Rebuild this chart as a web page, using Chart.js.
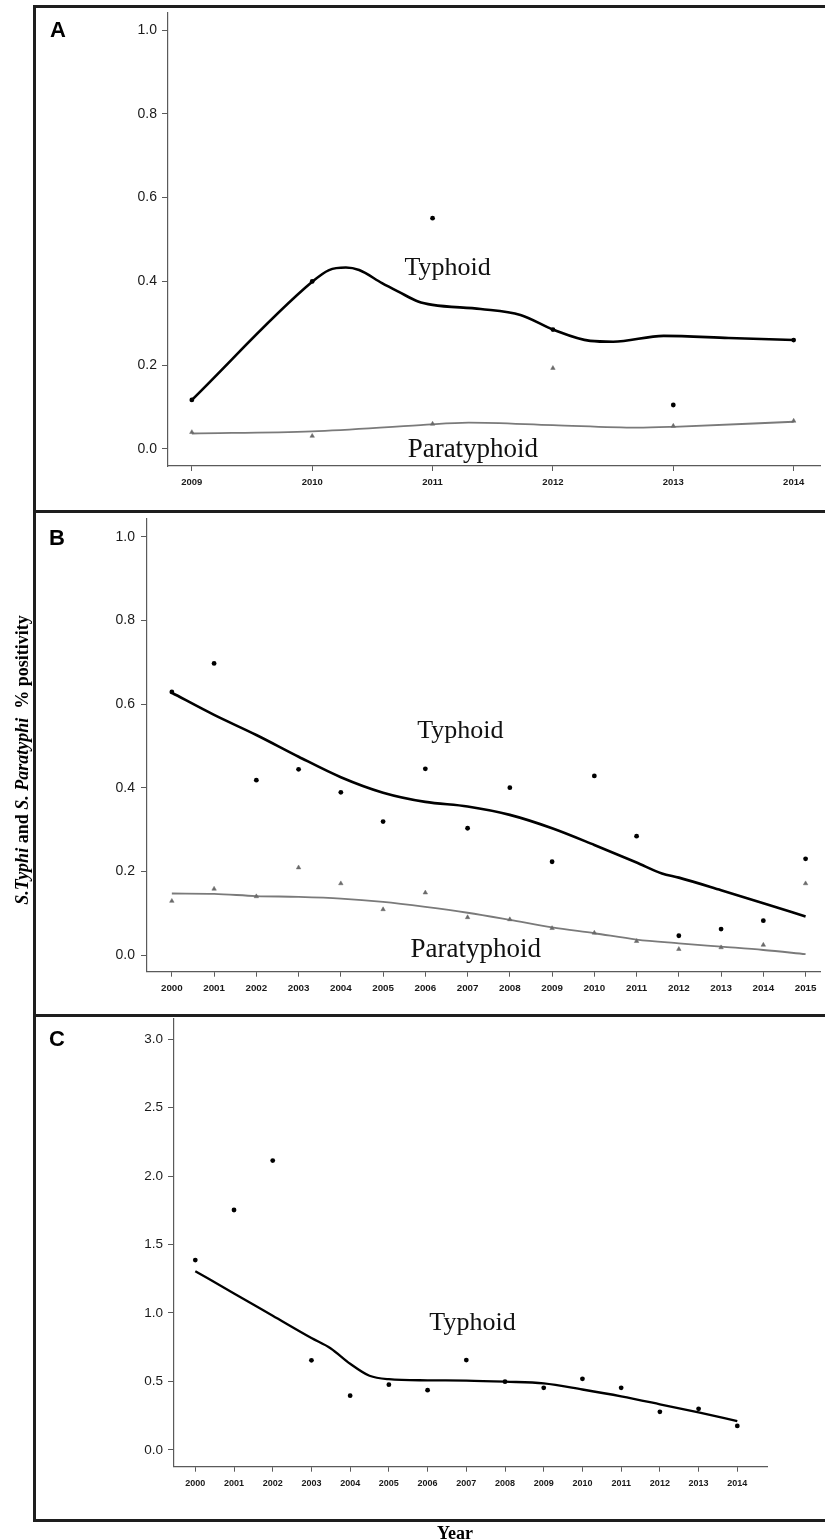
<!DOCTYPE html>
<html>
<head>
<meta charset="utf-8">
<script src="https://cdn.jsdelivr.net/npm/chart.js@4.4.1/dist/chart.umd.min.js"></script>
<style>
html,body{margin:0;padding:0;background:#fff;}
#wrap{position:relative;width:825px;height:1540px;overflow:hidden;background:#fff;}
#wrap canvas{position:absolute;left:0;}
.hl{position:absolute;left:33px;width:792px;height:3px;background:#1e1e1e;z-index:5;}
.vl{position:absolute;left:33px;width:3px;background:#1e1e1e;z-index:5;}
.pl{position:absolute;font:bold 22px "Liberation Sans",Arial,sans-serif;line-height:22px;color:#000;z-index:6;}
#ytitle{position:absolute;left:-137px;top:749px;width:320px;height:22px;line-height:22px;text-align:center;white-space:pre;
  font:bold 18px "Liberation Serif","Times New Roman",serif;color:#000;transform:rotate(-90deg);transform-origin:50% 50%;}
#xtitle{position:absolute;left:405px;top:1523px;width:100px;height:20px;line-height:20px;text-align:center;
  font:bold 18px "Liberation Serif","Times New Roman",serif;color:#000;}
</style>
</head>
<body>
<div id="wrap">
  <canvas id="cA"></canvas>
  <canvas id="cB"></canvas>
  <canvas id="cC"></canvas>
  <div class="hl" style="top:5px"></div>
  <div class="hl" style="top:510px"></div>
  <div class="hl" style="top:1014px"></div>
  <div class="hl" style="top:1519px"></div>
  <div class="vl" style="top:5px;height:1517px"></div>
  <div class="pl" style="left:50px;top:19px">A</div>
  <div class="pl" style="left:49px;top:527px">B</div>
  <div class="pl" style="left:49px;top:1028px">C</div>
  <div id="ytitle"><i>S.Typhi</i> and <i>S. Paratyphi</i>  % positivity</div>
  <div id="xtitle">Year</div>
</div>
<script>
// ---------- Panel A ----------
const yearsA = [2009, 2010, 2011, 2012, 2013, 2014];
const typhoidA = [0.117, 0.400, 0.551, 0.285, 0.105, 0.260];
const paraA = [0.040, 0.031, 0.060, 0.193, 0.055, 0.067];
const fitTyphoidYearsA = [2009, 2010, 2010.14, 2010.28, 2010.39, 2010.58, 2010.72, 2010.88, 2011, 2011.4, 2011.73, 2012.01, 2012.31, 2012.5, 2012.92, 2013.46, 2014];
const fitTyphoidA = [0.117, 0.399, 0.427, 0.433, 0.427, 0.396, 0.375, 0.352, 0.344, 0.334, 0.320, 0.284, 0.258, 0.256, 0.270, 0.265, 0.260];
const fitParaYearsA = [2009, 2010, 2010.9, 2011.3, 2012, 2012.7, 2013, 2014];
const fitParaA = [0.037, 0.042, 0.057, 0.063, 0.057, 0.051, 0.053, 0.065];
const yTicksA = [0, 0.2, 0.4, 0.6, 0.8, 1.0];

// ---------- Panel B ----------
const yearsB = [2000, 2001, 2002, 2003, 2004, 2005, 2006, 2007, 2008, 2009, 2010, 2011, 2012, 2013, 2014, 2015];
const typhoidB = [0.629, 0.697, 0.418, 0.444, 0.389, 0.319, 0.445, 0.303, 0.400, 0.223, 0.428, 0.284, 0.046, 0.062, 0.082, 0.230];
const paraB = [0.129, 0.158, 0.140, 0.209, 0.171, 0.109, 0.149, 0.090, 0.085, 0.064, 0.053, 0.033, 0.014, 0.018, 0.024, 0.171];
const fitTyphoidYearsB = [2000, 2001, 2002, 2003, 2004, 2005, 2006, 2007, 2008, 2009, 2010, 2011, 2011.6, 2012, 2013, 2014, 2015];
const fitTyphoidB = [0.627, 0.574, 0.526, 0.474, 0.425, 0.388, 0.366, 0.355, 0.335, 0.303, 0.263, 0.221, 0.195, 0.185, 0.155, 0.124, 0.092];
const fitParaYearsB = [2000, 2001, 2002, 2003, 2004, 2005, 2006, 2007, 2008, 2009, 2010, 2011, 2012, 2013, 2014, 2015];
const fitParaB = [0.147, 0.146, 0.141, 0.139, 0.135, 0.127, 0.115, 0.101, 0.084, 0.066, 0.052, 0.037, 0.028, 0.020, 0.012, 0.002];
const yTicksB = [0, 0.2, 0.4, 0.6, 0.8, 1.0];

// ---------- Panel C ----------
const yearsC = [2000, 2001, 2002, 2003, 2004, 2005, 2006, 2007, 2008, 2009, 2010, 2011, 2012, 2013, 2014];
const typhoidC = [1.386, 1.752, 2.113, 0.654, 0.396, 0.476, 0.436, 0.656, 0.498, 0.453, 0.519, 0.453, 0.278, 0.300, 0.175];
const fitTyphoidYearsC = [2000, 2001, 2002, 2003, 2003.5, 2004, 2004.5, 2005, 2006, 2007, 2008, 2009, 2010, 2011, 2012, 2013, 2014];
const fitTyphoidC = [1.305, 1.143, 0.980, 0.817, 0.741, 0.629, 0.541, 0.516, 0.508, 0.506, 0.498, 0.486, 0.441, 0.391, 0.333, 0.273, 0.210];
const yTicksC = [0, 0.5, 1.0, 1.5, 2.0, 2.5, 3.0];

// ---------- helpers ----------
const zip = (xs, ys) => xs.map((x, i) => ({x: x, y: ys[i]}));
const AXIS = '#5a5a5a';

function dotSet(xs, ys) {
  return {data: zip(xs, ys), showLine: false, pointStyle: 'circle', pointRadius: 2.4,
    pointBackgroundColor: '#000', pointBorderColor: '#000', pointBorderWidth: 0};
}
function triSet(xs, ys) {
  return {data: zip(xs, ys), showLine: false, pointStyle: 'triangle', pointRadius: 2.6,
    pointBackgroundColor: '#6a6a6a', pointBorderColor: '#6a6a6a', pointBorderWidth: 0.5};
}
function lineSet(xs, ys, color, w) {
  return {data: zip(xs, ys), showLine: true, pointRadius: 0, borderColor: color, borderWidth: w,
    cubicInterpolationMode: 'monotone', fill: false};
}

function makeChart(id, cfg) {
  const cv = document.getElementById(id);
  const W = 825, H = cfg.h, a = cfg.area;
  cv.width = W; cv.height = H;
  cv.style.width = W + 'px'; cv.style.height = H + 'px';
  cv.style.top = cfg.top + 'px';
  const labelPlugin = {
    id: 'panelText' + id,
    afterDatasetsDraw(chart) {
      const ctx = chart.ctx, xs = chart.scales.x, ys = chart.scales.y;
      ctx.save();
      ctx.fillStyle = '#111';
      ctx.textAlign = 'center';
      ctx.textBaseline = 'alphabetic';
      cfg.labels.forEach(l => {
        ctx.font = l.font;
        ctx.fillText(l.text, xs.getPixelForValue(l.x), ys.getPixelForValue(l.y));
      });
      ctx.restore();
    }
  };
  return new Chart(cv, {
    type: 'scatter',
    data: {datasets: cfg.datasets},
    options: {
      responsive: false, animation: false, devicePixelRatio: 1,
      layout: {padding: {left: 0, top: a.t, right: W - a.r, bottom: 0}},
      plugins: {legend: {display: false}, tooltip: {enabled: false}},
      elements: {line: {tension: 0}},
      scales: {
        x: {
          type: 'linear', min: cfg.xmin, max: cfg.xmax,
          afterBuildTicks: s => { s.ticks = cfg.xticks.map(v => ({value: v})); },
          afterFit: s => { s.height = H - a.b; s.paddingLeft = 0; s.paddingRight = 0; },
          ticks: {autoSkip: false, maxRotation: 0, minRotation: 0, padding: cfg.xpad,
            color: '#1a1a1a', font: {family: '"Liberation Sans", Arial, sans-serif', size: cfg.xfont, weight: 'bold'},
            callback: v => String(v)},
          grid: {drawOnChartArea: false, drawTicks: true, tickLength: 5, color: AXIS, lineWidth: 1},
          border: {display: true, color: AXIS, width: 1.2}
        },
        y: {
          type: 'linear', min: cfg.ymin, max: cfg.ymax,
          afterBuildTicks: s => { s.ticks = cfg.yticks.map(v => ({value: v})); },
          afterFit: s => { s.width = a.l; s.paddingTop = 0; s.paddingBottom = 0; },
          ticks: {padding: cfg.ypad, color: '#1a1a1a',
            font: {family: '"Liberation Sans", Arial, sans-serif', size: cfg.yfont},
            callback: v => Number(v).toFixed(1)},
          grid: {drawOnChartArea: false, drawTicks: true, tickLength: 6, color: AXIS, lineWidth: 1},
          border: {display: true, color: AXIS, width: 1.2}
        }
      }
    },
    plugins: [labelPlugin]
  });
}

const serifFont = px => px + 'px "Liberation Serif", "Times New Roman", serif';

makeChart('cA', {
  top: 0, h: 511, area: {l: 168, t: 13, r: 825, b: 466},
  xmin: 2008.802, xmax: 2014.223, ymin: -0.0406, ymax: 1.0406,
  xticks: yearsA, yticks: yTicksA, xfont: 9.5, yfont: 14, xpad: 6, ypad: 5,
  datasets: [
    dotSet(yearsA, typhoidA),
    triSet(yearsA, paraA),
    lineSet(fitTyphoidYearsA, fitTyphoidA, '#000', 2.6),
    lineSet(fitParaYearsA, fitParaA, '#7a7a7a', 1.8)
  ],
  labels: [
    {text: 'Typhoid', x: 2011.125, y: 0.415, font: serifFont(26)},
    {text: 'Paratyphoid', x: 2011.335, y: -0.018, font: serifFont(27)}
  ]
});

makeChart('cB', {
  top: 511, h: 504, area: {l: 147, t: 8, r: 825, b: 460.7},
  xmin: 1999.412, xmax: 2015.353, ymin: -0.0399, ymax: 1.0423,
  xticks: yearsB, yticks: yTicksB, xfont: 9.8, yfont: 14, xpad: 6, ypad: 6,
  datasets: [
    dotSet(yearsB, typhoidB),
    triSet(yearsB, paraB),
    lineSet(fitTyphoidYearsB, fitTyphoidB, '#000', 2.6),
    lineSet(fitParaYearsB, fitParaB, '#7a7a7a', 1.8)
  ],
  labels: [
    {text: 'Typhoid', x: 2006.83, y: 0.518, font: serifFont(26)},
    {text: 'Paratyphoid', x: 2007.195, y: -0.004, font: serifFont(27)}
  ]
});

makeChart('cC', {
  top: 1015, h: 525, area: {l: 174, t: 3, r: 767, b: 451.7},
  xmin: 1999.45, xmax: 2014.767, ymin: -0.1229, ymax: 3.147,
  xticks: yearsC, yticks: yTicksC, xfont: 9, yfont: 13.5, xpad: 6, ypad: 5,
  datasets: [
    dotSet(yearsC, typhoidC),
    lineSet(fitTyphoidYearsC, fitTyphoidC, '#000', 2.3)
  ],
  labels: [
    {text: 'Typhoid', x: 2007.16, y: 0.879, font: serifFont(26)}
  ]
});
</script>
</body>
</html>
